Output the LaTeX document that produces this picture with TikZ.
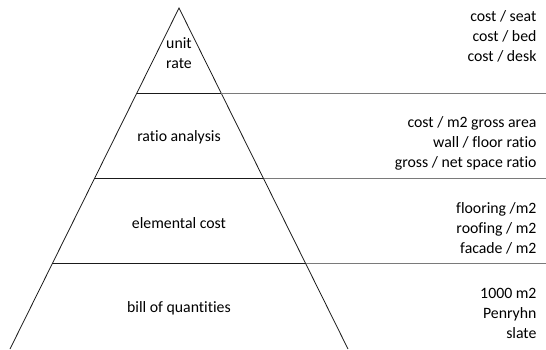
\documentclass[tikz,border=0pt]{standalone}
\usepackage{fontspec}
\setmainfont{Carlito}[Ligatures=NoCommon]
\usepackage{tikz}
\usetikzlibrary{calc}
\definecolor{pyrLine}{HTML}{1A1A1A}
\definecolor{pyrDots}{HTML}{7A7A7A}

\begin{document}
\begin{tikzpicture}[x=1pt, y=1pt,
    lvl/.style={font=\fontsize{15.8}{20}\selectfont, align=center},
    note/.style={font=\fontsize{15.8}{20}\selectfont, align=right, anchor=east}]
    \useasboundingbox (0,0) rectangle (546,349);

    \coordinate (top) at (179,341);
    \coordinate (bl) at (10,0);
    \coordinate (br) at (348,0);
    \coordinate (edge) at (546,0);
    \draw[pyrLine, line width=0.8pt] (bl) -- (top) -- (br);

    % level lines, dotted on to the right edge
    \foreach \t/\n in {0.25/a, 0.5/b, 0.75/c} {
        \coordinate (l\n) at ($(top)!\t!(bl)$);
        \coordinate (r\n) at ($(top)!\t!(br)$);
        \draw[pyrLine, line width=0.8pt] (l\n) -- (r\n);
        \draw[pyrDots, line width=1.2pt, dash pattern=on 0.5pt off 0.5pt] (r\n) -- (r\n -| edge);
    }

    \node[lvl] (unitrate) at (179,296) {unit\\rate};
    \node[lvl] (ratio) at (179,212) {ratio analysis};
    \node[lvl] (elemental) at (179,126) {elemental cost};
    \node[lvl] (bill) at (179,41) {bill of quantities};

    \node[note] (perunit) at (540,313) {cost / seat\\cost / bed\\cost / desk};
    \node[note] (perarea) at (540,206) {cost / m2 gross area\\wall / floor ratio\\gross / net space ratio};
    \node[note] (perelem) at (540,121) {flooring /m2\\roofing / m2\\facade / m2};
    \node[note] (perqty) at (540,36) {1000 m2\\Penryhn\\slate};
\end{tikzpicture}
\end{document}
